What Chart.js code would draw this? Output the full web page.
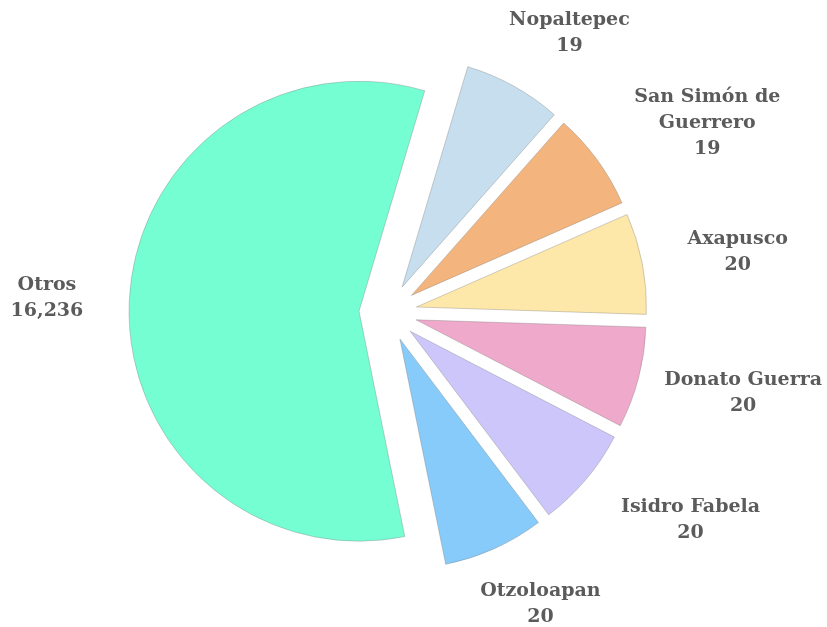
<!DOCTYPE html>
<html>
<head>
<meta charset="utf-8">
<script src="https://cdn.jsdelivr.net/npm/chart.js@4.4.1/dist/chart.umd.min.js"></script>
<style>
  html, body { margin: 0; padding: 0; background: #fff; }
  #wrap { width: 827px; height: 627px; }
</style>
</head>
<body>
<div id="wrap"><canvas id="myChart" width="827" height="627"></canvas></div>
<script>
// Municipalities, clockwise from the top
const municipios = ['Nopaltepec', ['San Simón de', 'Guerrero'], 'Axapusco', 'Donato Guerra', 'Isidro Fabela', 'Otzoloapan', 'Otros'];
// Values printed under each name
const valores = [19, 19, 20, 20, 20, 20, 16236];
// Share of the circle each slice takes in the picture (percent)
const porcentajes = [6.9, 6.9, 7.1, 7.1, 7.1, 7.1, 57.8];

const colores = ['#C6DEED', '#F3B57D', '#FEE8A9', '#EFA9CB', '#CCC6FA', '#87CBFA', '#76FED3'];

const EXPLODE = 29;     // how far every slice is pulled out
const LINE_H = 26;
const LABEL_GAP = 75;

// Pull every slice out along its middle angle, then let the arc draw itself
const explodeSlices = {
    id: 'explodeSlices',
    beforeDatasetDraw(chart, args) {
        const ctx = chart.ctx;
        args.meta.data.forEach(arc => {
            const {startAngle, endAngle} = arc.getProps(['startAngle', 'endAngle'], true);
            const mid = (startAngle + endAngle) / 2;
            ctx.save();
            ctx.translate(Math.cos(mid) * EXPLODE, Math.sin(mid) * EXPLODE);
            arc.draw(ctx);
            ctx.restore();
        });
        return false;
    }
};

// Draws "name / value" outside each slice
const outsideLabels = {
    id: 'outsideLabels',
    afterDatasetsDraw(chart) {
        const ctx = chart.ctx;
        const meta = chart.getDatasetMeta(0);
        ctx.save();
        ctx.font = 'bold 19px "DejaVu Serif"';
        ctx.fillStyle = '#5b5b5b';
        ctx.textAlign = 'center';
        ctx.textBaseline = 'middle';
        meta.data.forEach((arc, i) => {
            const {x, y, startAngle, endAngle, outerRadius} =
                arc.getProps(['x', 'y', 'startAngle', 'endAngle', 'outerRadius'], true);
            const mid = (startAngle + endAngle) / 2;
            const vx = Math.cos(mid);
            const vy = Math.sin(mid);
            const name = chart.data.labels[i];
            const lines = (Array.isArray(name) ? name : [name]).concat(valores[i].toLocaleString('en-US'));
            const w = Math.max(...lines.map(l => ctx.measureText(l).width));
            const h = lines.length * LINE_H;
            const vs = 1 / Math.max(Math.abs(vx), Math.abs(vy));
            const d = outerRadius + LABEL_GAP;
            let cx = x + vx * d + vx * vs * w / 2;
            let cy = y + vy * d + vy * vs * LINE_H / 2;
            cx = Math.min(Math.max(cx, w / 2 + 5), chart.width - w / 2 - 5);
            lines.forEach((l, k) => ctx.fillText(l, cx, cy - h / 2 + LINE_H * (k + 0.5)));
        });
        ctx.restore();
    }
};

function createPieChart() {
    const ctx = document.getElementById('myChart');
    new Chart(ctx, {
        type: 'pie',
        data: {
            labels: municipios,
            datasets: [{
                data: porcentajes,
                backgroundColor: colores,
                borderColor: 'rgba(120,120,120,0.35)',
                borderWidth: 1,
                radius: 230,
                rotation: 16.6
            }]
        },
        options: {
            responsive: false,
            animation: false,
            layout: { padding: { left: 0, right: 51, top: 0, bottom: 2 } },
            plugins: {
                legend: { display: false },
                tooltip: { enabled: false }
            }
        },
        plugins: [explodeSlices, outsideLabels]
    });
}

document.addEventListener("DOMContentLoaded", function () {
    createPieChart();
});
</script>
</body>
</html>
